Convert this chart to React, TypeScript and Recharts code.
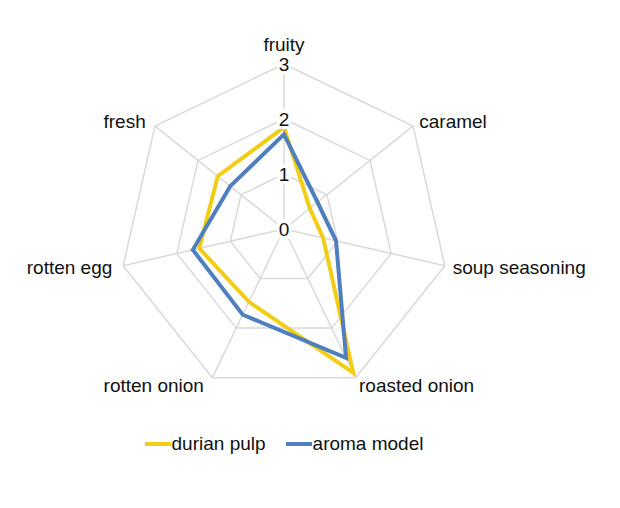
import { RadarChart, Radar, PolarGrid, PolarAngleAxis, PolarRadiusAxis, Legend } from "recharts";

const attributes = ["fruity", "caramel", "soup seasoning", "roasted onion", "rotten onion", "rotten egg", "fresh"];
const durianPulp = [1.85, 0.6, 0.73, 2.9, 1.47, 1.58, 1.54];
const aromaModel = [1.72, 0.78, 0.97, 2.6, 1.73, 1.7, 1.25];
const radiusTicks = [0, 1, 2, 3];

const data = attributes.map((name, i) => ({
  name,
  durian: durianPulp[i],
  aroma: aromaModel[i],
}));

const FONT = "'Liberation Sans', Arial, sans-serif";
const CX = 284;
const CY = 229;

const AngleTick = (props: any) => {
  const { x, y, textAnchor, payload } = props;
  const dy = y < CY - 120 ? -5 : 7;
  // left-hand labels sit a little further out in the original
  const dx = textAnchor === "end" ? (y > CY + 100 ? -5 : -3) : 0;
  return (
    <text x={x} y={y} dx={dx} dy={dy} textAnchor={textAnchor} fill="#111" fontSize={19} fontFamily={FONT}>
      {payload.value}
    </text>
  );
};

const RadiusTick = (props: any) => {
  const { x, y, payload } = props;
  return (
    <g>
      <rect x={x - 7} y={y - 10} width={14} height={20} fill="#fff" />
      <text x={x} y={y} dy={7} textAnchor="middle" fill="#111" fontSize={19} fontFamily={FONT}>
        {payload.value}
      </text>
    </g>
  );
};

const legendItems = [
  { label: "durian pulp", color: "#F2CD16" },
  { label: "aroma model", color: "#4F7FBE" },
];

const LegendContent = () => (
  <div style={{ display: "flex", justifyContent: "center", alignItems: "center", fontFamily: FONT, fontSize: 19, color: "#111" }}>
    {legendItems.map((it, i) => (
      <div key={it.label} style={{ display: "flex", alignItems: "center", marginLeft: i ? 20 : 0 }}>
        <span style={{ display: "inline-block", width: 26, height: 4, background: it.color, marginRight: 1 }} />
        <span>{it.label}</span>
      </div>
    ))}
  </div>
);

export default function App() {
  return (
    <div style={{ position: "absolute", left: 0, top: 0, background: "#fff" }}>
      <RadarChart width={620} height={508} data={data} cx={CX} cy={CY} outerRadius={165} margin={{ top: 0, right: 0, bottom: 0, left: 0 }}>
        <PolarGrid gridType="polygon" stroke="#D9D9D9" strokeWidth={1.5} />
        <PolarAngleAxis dataKey="name" tick={AngleTick} tickLine={false} axisLine={false} />
        <PolarRadiusAxis angle={90} domain={[0, 3]} ticks={radiusTicks as any} tickCount={4} axisLine={false} tickLine={false} tick={RadiusTick} />
        <Radar name="durian pulp" dataKey="durian" stroke="#F2CD16" strokeWidth={4} fill="none" fillOpacity={0} dot={false} isAnimationActive={false} />
        <Radar name="aroma model" dataKey="aroma" stroke="#4F7FBE" strokeWidth={4} fill="none" fillOpacity={0} dot={false} isAnimationActive={false} />
        <Legend content={LegendContent} wrapperStyle={{ position: "absolute", top: 433, left: 0, width: 568 }} />
      </RadarChart>
    </div>
  );
}
